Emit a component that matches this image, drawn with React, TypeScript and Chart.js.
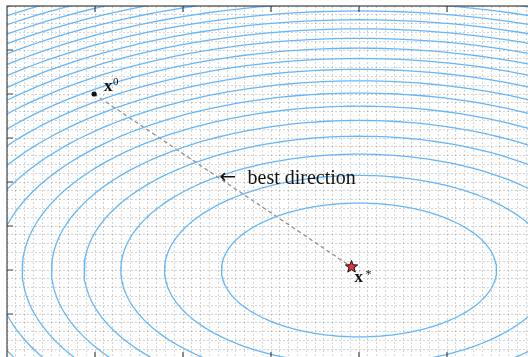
import React, { useEffect, useRef } from "react";
import { Chart, registerables } from "chart.js";

Chart.register(...registerables);

// ---- data ----
const xRange = [0, 6];
const yRange = [0, 8];
const contourCenter = [4, 2];
const contourLevels = [1, 2, 3, 4, 5, 6, 7, 8, 9, 10, 11, 12, 13, 14, 15, 16, 17, 18, 19, 20, 21, 22, 23];
const unitSemiAxisX = 1.5625;
const unitSemiAxisY = 1.52;
const startPoint = [0.99, 6.0];
const optimumPoint = [3.915, 2.07];
const majorTicksX = [1, 2, 3, 4, 5];
const majorTicksY = [1, 2, 3, 4, 5, 6, 7];
const startLabel = ["x", "0"];
const optimumLabel = ["x", "*"];
const directionArrow = "\u2190";
const directionLabel = "best direction";

const CONTOUR_COLOR = "rgb(100,182,250)";
const SEGMENTS = 240;

function ellipsePoints(level: number) {
  const pts: { x: number; y: number }[] = [];
  const s = Math.sqrt(level);
  for (let i = 0; i <= SEGMENTS; i++) {
    const t = (i / SEGMENTS) * Math.PI * 2;
    pts.push({
      x: contourCenter[0] + unitSemiAxisX * s * Math.cos(t),
      y: contourCenter[1] + unitSemiAxisY * s * Math.sin(t),
    });
  }
  return pts;
}

function drawStar(ctx: CanvasRenderingContext2D, cx: number, cy: number, R: number, r: number) {
  ctx.beginPath();
  for (let i = 0; i < 10; i++) {
    const rad = i % 2 === 0 ? R : r;
    const a = -Math.PI / 2 + (i * Math.PI) / 5;
    const px = cx + rad * Math.cos(a);
    const py = cy + rad * Math.sin(a);
    if (i === 0) ctx.moveTo(px, py);
    else ctx.lineTo(px, py);
  }
  ctx.closePath();
}

const overlayPlugin = {
  id: "overlay",
  afterDatasetsDraw(chart: any) {
    const ctx: CanvasRenderingContext2D = chart.ctx;
    const xs = chart.scales.x;
    const ys = chart.scales.y;
    const area = chart.chartArea;
    ctx.save();
    // frame
    ctx.strokeStyle = "#444";
    ctx.lineWidth = 1.2;
    ctx.strokeRect(area.left, area.top, area.right - area.left, area.bottom - area.top);
    // inward major ticks
    ctx.lineWidth = 1.2;
    ctx.beginPath();
    for (const v of majorTicksX) {
      const px = xs.getPixelForValue(v);
      ctx.moveTo(px, area.bottom);
      ctx.lineTo(px, area.bottom - 6);
      ctx.moveTo(px, area.top);
      ctx.lineTo(px, area.top + 6);
    }
    for (const v of majorTicksY) {
      const py = ys.getPixelForValue(v);
      ctx.moveTo(area.left, py);
      ctx.lineTo(area.left + 6, py);
      ctx.moveTo(area.right, py);
      ctx.lineTo(area.right - 6, py);
    }
    ctx.stroke();

    // star at optimum
    const sx = xs.getPixelForValue(optimumPoint[0]);
    const sy = ys.getPixelForValue(optimumPoint[1]);
    drawStar(ctx, sx, sy, 6.4, 2.7);
    ctx.fillStyle = "#e8323a";
    ctx.fill();
    ctx.strokeStyle = "#111";
    ctx.lineWidth = 1;
    ctx.stroke();

    // labels
    ctx.fillStyle = "#111";
    ctx.textBaseline = "alphabetic";
    ctx.textAlign = "left";
    const x0x = xs.getPixelForValue(startPoint[0]);
    const x0y = ys.getPixelForValue(startPoint[1]);
    ctx.font = "bold 17px 'Liberation Serif', serif";
    ctx.fillText(startLabel[0], x0x + 10, x0y - 3);
    ctx.font = "11px 'Liberation Serif', serif";
    ctx.fillText(startLabel[1], x0x + 19, x0y - 9);

    ctx.font = "bold 17px 'Liberation Serif', serif";
    ctx.fillText(optimumLabel[0], sx + 3, sy + 15);
    ctx.font = "12px 'Liberation Serif', serif";
    ctx.fillText(optimumLabel[1], sx + 14, sy + 11);

    // direction annotation
    const ax = xs.getPixelForValue(2.415);
    const ay = ys.getPixelForValue(3.96);
    ctx.font = "20px 'DejaVu Sans', sans-serif";
    ctx.fillText(directionArrow, ax, ay - 1);
    ctx.font = "20px 'Liberation Serif', serif";
    ctx.fillText(directionLabel, ax + 28, ay);
    ctx.restore();
  },
};

export default function App() {
  const ref = useRef<HTMLCanvasElement | null>(null);
  useEffect(() => {
    if (!ref.current) return;
    const datasets: any[] = contourLevels.map((lv) => ({
      type: "line",
      data: ellipsePoints(lv),
      borderColor: CONTOUR_COLOR,
      borderWidth: 1.3,
      pointRadius: 0,
      tension: 0,
      fill: false,
    }));
    datasets.push({
      type: "line",
      data: [
        { x: startPoint[0], y: startPoint[1] },
        { x: optimumPoint[0], y: optimumPoint[1] },
      ],
      borderColor: "#8a8a8a",
      borderWidth: 1.2,
      borderDash: [4, 3],
      pointRadius: [2.6, 0],
      pointBackgroundColor: "#111",
      pointBorderColor: "#111",
      pointBorderWidth: 0,
      fill: false,
    });
    const chart = new Chart(ref.current, {
      type: "line",
      data: { datasets },
      options: {
        animation: false,
        responsive: false,
        layout: { padding: { left: 7, top: 6, right: 10, bottom: 4 } },
        plugins: { legend: { display: false }, tooltip: { enabled: false } },
        scales: {
          x: {
            type: "linear",
            min: xRange[0],
            max: xRange[1],
            ticks: { display: false, stepSize: 0.1 },
            grid: { color: "rgba(0,0,0,0.17)", lineWidth: 1, drawTicks: false },
            border: { display: false, dash: [2, 2] },
          },
          y: {
            type: "linear",
            min: yRange[0],
            max: yRange[1],
            ticks: { display: false, stepSize: 0.2 },
            grid: { color: "rgba(0,0,0,0.17)", lineWidth: 1, drawTicks: false },
            border: { display: false, dash: [2, 2] },
          },
        },
      },
      plugins: [overlayPlugin],
    });
    return () => chart.destroy();
  }, []);
  return (
    <div
      style={{
        position: "fixed",
        left: 0,
        top: 0,
        width: 528,
        height: 357,
        overflow: "hidden",
        background: "#fff",
      }}
    >
      <canvas ref={ref} width={545} height={362} style={{ display: "block", width: 545, height: 362 }} />
    </div>
  );
}
